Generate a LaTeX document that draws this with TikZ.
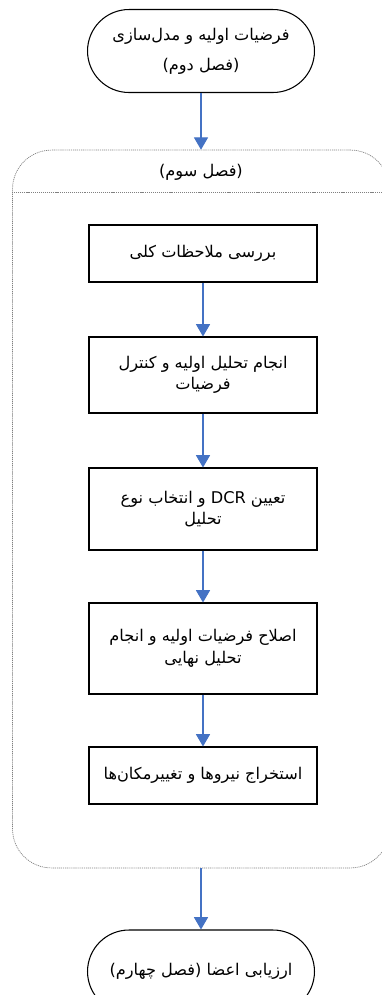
\documentclass[tikz,border=0pt]{standalone}
\usepackage{fontspec}
\usetikzlibrary{shapes.misc,arrows.meta}
\TeXXeTstate=1
\newfontfamily\farsi[Script=Arabic]{DejaVu Sans}
\definecolor{arrowblue}{HTML}{4472C4}

\begin{document}
\begin{tikzpicture}[x=0.02cm, y=0.02cm]
\tikzstyle{every node}+=[font=\farsi\fontsize{9.2}{12.3}\selectfont, align=center, inner sep=0pt]
\tikzstyle{chapter}=[draw, rounded rectangle, minimum width=4.54cm, minimum height=1.66cm, line width=0.6pt, font=\farsi\fontsize{9.2}{17}\selectfont]
\tikzstyle{stepbox}=[draw, rectangle, minimum width=4.56cm, line width=0.6pt]
\tikzstyle{frame}=[draw=gray, line width=0.4pt, dash pattern=on 0.6pt off 0.5pt]
\tikzstyle{flow}=[arrowblue, line width=0.6pt, -{Triangle[width=8pt,length=7pt]}]
\useasboundingbox (0,0) rectangle (382,-995);
\node [chapter] (ch2) at (201,-51) {\beginR فرضیات اولیه و مدل‌سازی\endR\\\beginR(فصل دوم)\endR};
\node [frame, rounded corners=0.78cm, minimum width=7.54cm, minimum height=14.36cm] (ch3) at (201,-509) {};
\draw [frame] (12,-192) -- (390,-192);
\node (ch3title) at (201,-172) {\beginR(فصل سوم)\endR};
\node [stepbox, minimum height=1.14cm] (review) at (203,-253.5) {\beginR بررسی ملاحظات کلی\endR};
\node [stepbox, minimum height=1.52cm] (initial) at (203,-375) {\beginR انجام تحلیل اولیه و کنترل\endR\\\beginR فرضیات\endR};
\node [stepbox, minimum height=1.64cm] (dcr) at (203,-509) {\beginR تعیین \beginL DCR\endL{} و انتخاب نوع\endR\\\beginR تحلیل\endR};
\node [stepbox, minimum height=1.82cm] (final) at (203,-648.5) {\beginR اصلاح فرضیات اولیه و انجام\endR\\\beginR تحلیل نهایی\endR};
\node [stepbox, minimum height=1.14cm] (forces) at (203,-775.5) {\beginR استخراج نیروها و تغییرمکان‌ها\endR};
\node [chapter] (ch4) at (201,-971.5) {\beginR ارزیابی اعضا (فصل چهارم)\endR};
\draw [flow] (ch2.south) -- (ch3.north);
\draw [flow] (review) -- (initial);
\draw [flow] (initial) -- (dcr);
\draw [flow] (dcr) -- (final);
\draw [flow] (final) -- (forces);
\draw [flow] (ch3.south) -- (ch4.north);
\end{tikzpicture}
\end{document}
